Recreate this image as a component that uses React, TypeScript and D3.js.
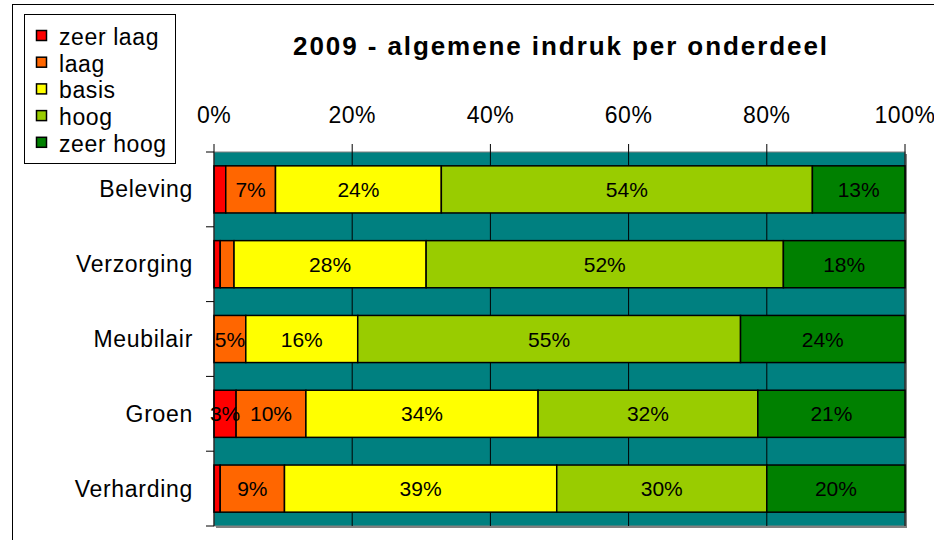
import React, { useRef, useEffect } from "react";
import * as d3 from "d3";

const categories = ["Beleving", "Verzorging", "Meubilair", "Groen", "Verharding"];
const seriesNames = ["zeer laag", "laag", "basis", "hoog", "zeer hoog"];
const zeerLaag = [1.7, 0.9, 0, 3.2, 0.9];
const laag = [7.2, 2.0, 4.6, 10.1, 9.3];
const basis = [24.0, 27.8, 16.2, 33.6, 39.4];
const hoog = [53.7, 51.7, 55.4, 31.8, 30.4];
const zeerHoog = [13.4, 17.6, 23.8, 21.3, 20.0];
const xTicks = [0, 20, 40, 60, 80, 100];
const colors = ["#ff0000", "#ff6600", "#ffff00", "#99cc00", "#008000"];

export default function App() {
  const svgRef = useRef<SVGSVGElement>(null);

  useEffect(() => {
    const svg = d3.select(svgRef.current);
    svg.selectAll("*").remove();

    const width = 934;
    const height = 540;
    const margin = { top: 152, right: 29, bottom: 14, left: 214 };
    const font = "Arial, 'Liberation Sans', sans-serif";

    svg.attr("width", width).attr("height", height);

    // chart frame
    svg
      .append("rect")
      .attr("x", 12.5)
      .attr("y", 4.5)
      .attr("width", 1000)
      .attr("height", 1000)
      .attr("fill", "#fff")
      .attr("stroke", "#000")
      .attr("stroke-width", 1);

    const x = d3
      .scaleLinear()
      .domain([0, 100])
      .range([margin.left, width - margin.right]);

    const y = d3
      .scaleBand()
      .domain(categories)
      .range([margin.top, height - margin.bottom])
      .paddingInner(0.37)
      .paddingOuter(0.185);

    const plotW = x(100) - x(0);
    const plotH = height - margin.bottom - margin.top;

    // shadow + plot background
    svg
      .append("rect")
      .attr("x", x(0) + 2)
      .attr("y", margin.top + 2)
      .attr("width", plotW)
      .attr("height", plotH)
      .attr("fill", "#808080");
    svg
      .append("rect")
      .attr("x", x(0))
      .attr("y", margin.top)
      .attr("width", plotW)
      .attr("height", plotH)
      .attr("fill", "#008080")
      .attr("stroke", "#808080")
      .attr("stroke-width", 1);

    // vertical gridlines
    svg
      .append("g")
      .selectAll("line")
      .data(xTicks.slice(1))
      .join("line")
      .attr("x1", (d) => x(d))
      .attr("x2", (d) => x(d))
      .attr("y1", margin.top)
      .attr("y2", margin.top + plotH)
      .attr("stroke", "#000")
      .attr("stroke-width", 1);

    // stacked bars
    const rows = categories.map((c, i) => ({
      category: c,
      values: [zeerLaag[i], laag[i], basis[i], hoog[i], zeerHoog[i]],
    }));
    const stacked = rows.flatMap((r) => {
      let acc = 0;
      return r.values.map((v, k) => {
        const s = { category: r.category, k, x0: acc, x1: acc + v, v };
        acc += v;
        return s;
      });
    });

    svg
      .append("g")
      .selectAll("rect")
      .data(stacked.filter((d) => d.v > 0))
      .join("rect")
      .attr("x", (d) => x(d.x0))
      .attr("y", (d) => y(d.category)!)
      .attr("width", (d) => x(d.x1) - x(d.x0))
      .attr("height", y.bandwidth())
      .attr("fill", (d) => colors[d.k])
      .attr("stroke", "#000")
      .attr("stroke-width", 1.5);

    // data labels (small slices left unlabeled)
    svg
      .append("g")
      .selectAll("text")
      .data(stacked.filter((d) => d.v >= 3))
      .join("text")
      .attr("x", (d) => x((d.x0 + d.x1) / 2))
      .attr("y", (d) => y(d.category)! + y.bandwidth() / 2 + 7.5)
      .attr("text-anchor", "middle")
      .attr("font-family", font)
      .attr("font-size", 21)
      .attr("fill", "#000")
      .text((d) => `${Math.round(d.v)}%`);

    // left axis line + category ticks
    svg
      .append("line")
      .attr("x1", x(0))
      .attr("x2", x(0))
      .attr("y1", margin.top)
      .attr("y2", margin.top + plotH)
      .attr("stroke", "#000");
    const bounds = d3.range(categories.length + 1).map((i) => margin.top + i * y.step());
    svg
      .append("g")
      .selectAll("line")
      .data(bounds)
      .join("line")
      .attr("x1", x(0) - 8)
      .attr("x2", x(0))
      .attr("y1", (d) => d)
      .attr("y2", (d) => d)
      .attr("stroke", "#000");

    svg
      .append("g")
      .selectAll("text")
      .data(categories)
      .join("text")
      .attr("x", 193)
      .attr("y", (d) => y(d)! + y.bandwidth() / 2 + 8)
      .attr("text-anchor", "end")
      .attr("font-family", font)
      .attr("font-size", 23)
      .attr("letter-spacing", 0.7)
      .text((d) => d);

    // top axis
    svg
      .append("g")
      .selectAll("line")
      .data(xTicks)
      .join("line")
      .attr("x1", (d) => x(d))
      .attr("x2", (d) => x(d))
      .attr("y1", margin.top - 8)
      .attr("y2", margin.top)
      .attr("stroke", "#000");
    svg
      .append("g")
      .selectAll("text")
      .data(xTicks)
      .join("text")
      .attr("x", (d) => x(d))
      .attr("y", 123)
      .attr("text-anchor", "middle")
      .attr("font-family", font)
      .attr("font-size", 23)
      .attr("letter-spacing", 0.5)
      .text((d) => `${d}%`);

    // title
    svg
      .append("text")
      .attr("x", 560)
      .attr("y", 55)
      .attr("text-anchor", "middle")
      .attr("font-family", font)
      .attr("font-size", 26)
      .attr("font-weight", "bold")
      .attr("textLength", 534)
      .attr("lengthAdjust", "spacing")
      .text("2009 - algemene indruk per onderdeel");

    // legend
    const legend = svg.append("g");
    legend
      .append("rect")
      .attr("x", 24.5)
      .attr("y", 14.5)
      .attr("width", 151)
      .attr("height", 149)
      .attr("fill", "#fff")
      .attr("stroke", "#000");
    const item = legend
      .selectAll("g")
      .data(seriesNames)
      .join("g")
      .attr("transform", (d, i) => `translate(0, ${30 + i * 26.7})`);
    item
      .append("rect")
      .attr("x", 36.5)
      .attr("y", 0.5)
      .attr("width", 10)
      .attr("height", 10)
      .attr("fill", (d, i) => colors[i])
      .attr("stroke", "#000")
      .attr("stroke-width", 1.5);
    item
      .append("text")
      .attr("x", 59)
      .attr("y", 15)
      .attr("font-family", font)
      .attr("font-size", 23)
      .attr("letter-spacing", 0.6)
      .text((d) => d);
  }, []);

  return (
    <div style={{ position: "absolute", left: 0, top: 0 }}>
      <svg ref={svgRef} style={{ display: "block" }}></svg>
    </div>
  );
}
